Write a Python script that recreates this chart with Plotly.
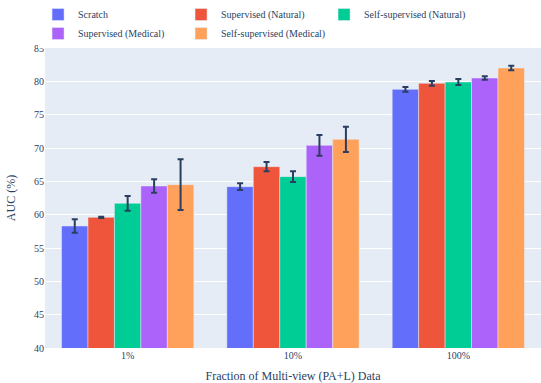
import plotly.graph_objects as go

# Label-data fractions on the x axis
fractions = ["1%", "10%", "100%"]

# Pretraining strategies (legend order)
series_names = [
    "Scratch",
    "Supervised (Natural)",
    "Self-supervised (Natural)",
    "Supervised (Medical)",
    "Self-supervised (Medical)",
]

# Mean AUC (%) per strategy, one value per fraction
auc_scratch = [58.3, 64.2, 78.8]
auc_sup_natural = [59.6, 67.2, 79.7]
auc_ssl_natural = [61.7, 65.7, 79.9]
auc_sup_medical = [64.3, 70.4, 80.5]
auc_ssl_medical = [64.5, 71.3, 82.0]

# Standard deviation of AUC (%)
std_scratch = [1.0, 0.5, 0.35]
std_sup_natural = [0.1, 0.7, 0.35]
std_ssl_natural = [1.1, 0.8, 0.45]
std_sup_medical = [1.0, 1.55, 0.25]
std_ssl_medical = [3.8, 1.9, 0.35]

means = [auc_scratch, auc_sup_natural, auc_ssl_natural, auc_sup_medical, auc_ssl_medical]
stds = [std_scratch, std_sup_natural, std_ssl_natural, std_sup_medical, std_ssl_medical]

SERIF = "Liberation Serif"

fig = go.Figure()
for name, m, s in zip(series_names, means, stds):
    fig.add_trace(
        go.Bar(
            name=name,
            x=fractions,
            y=m,
            error_y=dict(type="data", array=s, visible=True, width=3, thickness=2),
        )
    )

fig.update_layout(
    template="plotly",
    width=541,
    height=383,
    barmode="group",
    bargap=0.2,
    bargroupgap=0,
    margin=dict(l=45, r=0, t=47, b=35),
    font=dict(family=SERIF, size=10, color="#2a3f5f"),
    legend=dict(
        orientation="h",
        x=-0.014,
        xanchor="left",
        y=1.0,
        yanchor="bottom",
        itemwidth=30,
        entrywidth=98,
        tracegroupgap=0,
        font=dict(family=SERIF, size=10),
    ),
    xaxis=dict(
        title=dict(text="Fraction of Multi-view (PA+L) Data", font=dict(family=SERIF, size=12)),
        tickfont=dict(family=SERIF, size=10),
        automargin=False,
    ),
    yaxis=dict(
        title=dict(text="AUC (%)", font=dict(family=SERIF, size=12)),
        tickfont=dict(family=SERIF, size=10),
        range=[40, 85],
        dtick=5,
        automargin=False,
    ),
)

fig.write_html("out.html")
